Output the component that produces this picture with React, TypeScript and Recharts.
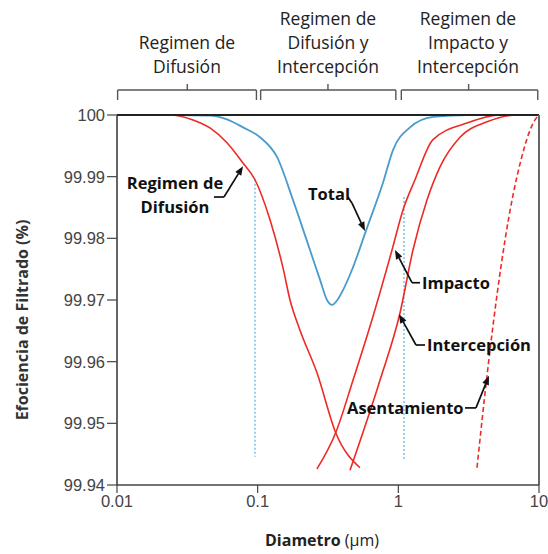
import React from 'react';
import { LineChart, Line, XAxis, YAxis, ReferenceLine } from 'recharts';

// ejes
const xTicks = [0.01, 0.1, 1, 10];
const yTicks = [99.94, 99.95, 99.96, 99.97, 99.98, 99.99, 100];

// [diametro (um), eficiencia (%)]
const total: [number, number][] = [
  [0.01, 100], [0.025, 100], [0.0458, 99.9999], [0.0605, 99.9993], [0.0787, 99.998],
  [0.1039, 99.9964], [0.1372, 99.9932], [0.1784, 99.9862], [0.2355, 99.9781],
  [0.2773, 99.9733], [0.3111, 99.97], [0.3377, 99.9692], [0.3687, 99.97],
  [0.4043, 99.9716], [0.4685, 99.9749], [0.5988, 99.9817], [0.778, 99.989],
  [0.9162, 99.9943], [1.2104, 99.998], [1.7634, 99.9997], [3.077, 100], [10, 100],
];

const difusion: [number, number][] = [
  [0.01, 100], [0.0238, 100], [0.0347, 99.9992], [0.0458, 99.9979], [0.0605, 99.9955],
  [0.0787, 99.9922], [0.0957, 99.9895], [0.1224, 99.983], [0.1514, 99.9752],
  [0.1698, 99.97], [0.2, 99.9651], [0.264, 99.9582], [0.36, 99.9484], [0.534, 99.9428],
];

const impacto: [number, number][] = [
  [0.2641, 99.9426], [0.3604, 99.9486], [0.4762, 99.957], [0.6499, 99.9668],
  [0.9016, 99.9781], [1.0792, 99.9846], [1.3136, 99.9895], [1.7634, 99.996],
  [3.077, 99.9987], [5.28, 100], [10, 100],
];

const intercepcion: [number, number][] = [
  [0.4534, 99.9424], [0.7407, 99.957], [1.0276, 99.9679], [1.271, 99.9781],
  [1.5983, 99.9862], [1.9782, 99.9916], [2.7436, 99.9964], [4.2687, 99.9989],
  [6.974, 100], [10, 100],
];

const asentamiento: [number, number][] = [
  [3.624, 99.9428], [4.2687, 99.9577], [5.027, 99.9708], [5.731, 99.9797],
  [6.533, 99.987], [7.447, 99.9927], [8.489, 99.9971], [9.365, 99.9992], [10, 100],
];

// lineas punteadas verticales [x, yInicio, yFin]
const guias: [number, number, number][] = [
  [0.0957, 99.9895, 99.9446],
  [1.097, 99.9867, 99.9439],
];

// llaves superiores [desde, hasta, centro]
const llaves: [number, number, number][] = [
  [0.0101, 0.098, 0.0316],
  [0.105, 0.96, 0.316],
  [1.05, 9.8, 3.16],
];
const llaveY = 100.00405;
const llaveExtremo = 100.00243;
const llaveCentro = 100.00503;

const encabezados = [
  { x: 187, top: 30, lines: ['Regimen de', 'Difusión'] },
  { x: 328, top: 6, lines: ['Regimen de', 'Difusión y', 'Intercepción'] },
  { x: 468, top: 6, lines: ['Regimen de', 'Impacto y', 'Intercepción'] },
];

// flechas de anotacion (puntos en coordenadas de datos)
const flechas: [number, number][][] = [
  [[0.0489, 99.9867], [0.0576, 99.9867], [0.0787, 99.9917]],
  [[0.4385, 99.9867], [0.4685, 99.9857], [0.5794, 99.9812]],
  [[1.426, 99.9728], [1.25, 99.9728], [0.9469, 99.9781]],
  [[1.547, 99.9627], [1.335, 99.9627], [1.011, 99.9677]],
  [[2.978, 99.9525], [3.565, 99.9525], [4.411, 99.9577]],
];

const anotaciones = [
  { left: 125, top: 171, width: 100, lines: ['Regimen de', 'Difusión'] },
  { left: 308, top: 182, lines: ['Total'] },
  { left: 422, top: 271, lines: ['Impacto'] },
  { left: 427, top: 333, lines: ['Intercepción'] },
  { left: 347, top: 396, lines: ['Asentamiento'] },
];

const RED = '#ee2a24';
const BLUE = '#4a9bcb';
const FONT = '"Open Sans", "Noto Sans", sans-serif';
const TICK_FONT = '"Liberation Sans", Arial, sans-serif';

const toPts = (arr: [number, number][]) => arr.map(([x, y]) => ({ x, y }));

const ArrowHead = (props: any) => {
  const { x1, y1, x2, y2 } = props;
  const a = Math.atan2(y2 - y1, x2 - x1);
  const len = 9;
  const w = 3.5;
  const bx = x2 - len * Math.cos(a);
  const by = y2 - len * Math.sin(a);
  const pts = `${x2},${y2} ${bx - w * Math.sin(a)},${by + w * Math.cos(a)} ${bx + w * Math.sin(a)},${by - w * Math.cos(a)}`;
  return (
    <g>
      <line x1={x1} y1={y1} x2={bx} y2={by} stroke="#111" strokeWidth={1.7} />
      <polygon points={pts} fill="#111" />
    </g>
  );
};

export default function App() {
  return (
    <div
      style={{
        position: 'absolute', left: 0, top: 0, width: 548, height: 554,
        overflow: 'hidden', fontFamily: FONT, background: '#fff',
      }}
    >
      <LineChart width={548} height={554} margin={{ top: 115, right: 9, left: 47, bottom: 39 }}>
        <XAxis
          dataKey="x"
          type="number"
          scale="log"
          domain={[0.01, 10]}
          ticks={xTicks}
          allowDataOverflow
          height={30}
          tickSize={8}
          tickFormatter={(v: number) => String(v)}
          tick={{ fill: '#444', fontSize: 16.5, fontFamily: TICK_FONT }}
          axisLine={{ stroke: '#444', strokeWidth: 1.5 }}
          tickLine={{ stroke: '#444', strokeWidth: 1.2 }}
        />
        <YAxis
          type="number"
          domain={[99.94, 100]}
          ticks={yTicks}
          allowDataOverflow
          width={70}
          tickSize={10}
          tickFormatter={(v: number) => (v === 100 ? '100' : v.toFixed(2))}
          tick={{ fill: '#444', fontSize: 16.5, fontFamily: TICK_FONT }}
          axisLine={{ stroke: '#333', strokeWidth: 1.5 }}
          tickLine={{ stroke: '#444', strokeWidth: 1.2 }}
        />

        {guias.map(([x, y1, y2], i) => (
          <ReferenceLine
            key={`g${i}`}
            segment={[{ x, y: y1 }, { x, y: y2 }]}
            stroke="#6ab7e8"
            strokeWidth={1.3}
            strokeDasharray="2 2"
            ifOverflow="visible"
          />
        ))}

        <Line data={toPts(difusion)} dataKey="y" type="monotone" stroke={RED} strokeWidth={1.6} dot={false} isAnimationActive={false} />
        <Line data={toPts(impacto)} dataKey="y" type="monotone" stroke={RED} strokeWidth={1.6} dot={false} isAnimationActive={false} />
        <Line data={toPts(intercepcion)} dataKey="y" type="monotone" stroke={RED} strokeWidth={1.6} dot={false} isAnimationActive={false} />
        <Line data={toPts(asentamiento)} dataKey="y" type="monotone" stroke={RED} strokeWidth={1.6} strokeDasharray="5 3" dot={false} isAnimationActive={false} />
        <Line data={toPts(total)} dataKey="y" type="monotone" stroke={BLUE} strokeWidth={1.8} dot={false} isAnimationActive={false} />

        <ReferenceLine y={100} stroke="#222" strokeWidth={2.2} ifOverflow="visible" />
        <ReferenceLine x={10} stroke="#666" strokeWidth={2} ifOverflow="visible" />

        {llaves.map(([a, b, m], i) => [
          <ReferenceLine key={`lh${i}`} segment={[{ x: a, y: llaveY }, { x: b, y: llaveY }]} stroke="#555" strokeWidth={1.4} ifOverflow="visible" />,
          <ReferenceLine key={`la${i}`} segment={[{ x: a, y: llaveY }, { x: a, y: llaveExtremo }]} stroke="#555" strokeWidth={1.4} ifOverflow="visible" />,
          <ReferenceLine key={`lb${i}`} segment={[{ x: b, y: llaveY }, { x: b, y: llaveExtremo }]} stroke="#555" strokeWidth={1.4} ifOverflow="visible" />,
          <ReferenceLine key={`lm${i}`} segment={[{ x: m, y: llaveY }, { x: m, y: llaveCentro }]} stroke="#555" strokeWidth={1.4} ifOverflow="visible" />,
        ])}

        {flechas.map((pts, i) =>
          pts.slice(1).map((p, j) => (
            <ReferenceLine
              key={`f${i}-${j}`}
              segment={[{ x: pts[j][0], y: pts[j][1] }, { x: p[0], y: p[1] }]}
              stroke="#111"
              strokeWidth={1.7}
              ifOverflow="visible"
              shape={j === pts.length - 2 ? ArrowHead : undefined}
            />
          ))
        )}
      </LineChart>

      {encabezados.map((h, i) => (
        <div
          key={`h${i}`}
          style={{
            position: 'absolute', left: h.x - 80, top: h.top, width: 160, textAlign: 'center',
            fontSize: 17.5, lineHeight: '24px', color: '#222',
          }}
        >
          {h.lines.map((l) => (<div key={l}>{l}</div>))}
        </div>
      ))}

      {anotaciones.map((a, i) => (
        <div
          key={`a${i}`}
          style={{
            position: 'absolute', left: a.left, top: a.top, width: a.width,
            textAlign: a.width ? 'center' : 'left', whiteSpace: 'nowrap',
            fontSize: 16.5, fontWeight: 700, lineHeight: '24px', color: '#111',
          }}
        >
          {a.lines.map((l) => (<div key={l}>{l}</div>))}
        </div>
      ))}

      <div
        style={{
          position: 'absolute', left: 22, top: 320, transform: 'translate(-50%, -50%) rotate(-90deg)',
          whiteSpace: 'nowrap', fontSize: 16, fontWeight: 700, color: '#333',
        }}
      >
        Efociencia de Filtrado (%)
      </div>
      <div
        style={{
          position: 'absolute', left: 322, top: 540, transform: 'translate(-50%, -50%)',
          whiteSpace: 'nowrap', fontSize: 16, color: '#222',
        }}
      >
        <span style={{ fontWeight: 700 }}>Diametro</span> <span>(μm)</span>
      </div>
    </div>
  );
}
